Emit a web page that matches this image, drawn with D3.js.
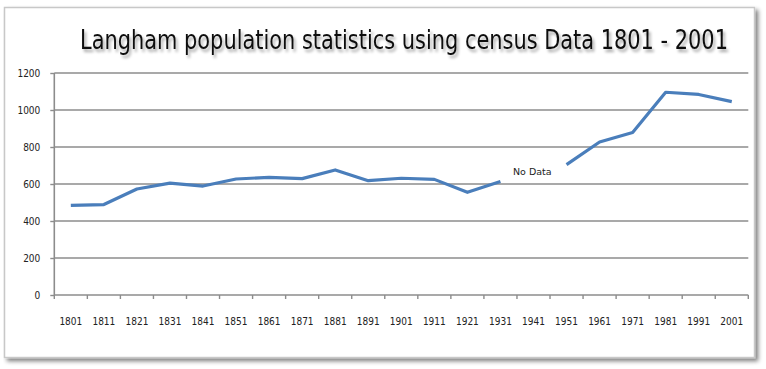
<!DOCTYPE html>
<html><head><meta charset="utf-8">
<script src="https://cdn.jsdelivr.net/npm/d3@7"></script>
<style>body{margin:0;background:#fff;}svg{display:block;}</style>
</head><body>
<svg id="c" width="766" height="369"></svg>
<script>
const years = ["1801","1811","1821","1831","1841","1851","1861","1871","1881","1891","1901","1911","1921","1931","1941","1951","1961","1971","1981","1991","2001"];
const population = [484,489,573,605,589,627,636,629,676,618,631,625,555,613,null,705,827,878,1096,1084,1045];
const yTicks = [0,200,400,600,800,1000,1200];
const title = "Langham population statistics using census Data 1801 - 2001";
const noDataLabel = "No Data";

const svg = d3.select("#c");
const defs = svg.append("defs");
const f = defs.append("filter").attr("id","sh").attr("filterUnits","userSpaceOnUse")
  .attr("x",0).attr("y",0).attr("width",766).attr("height",369);
f.append("feGaussianBlur").attr("in","SourceAlpha").attr("stdDeviation",2);
f.append("feOffset").attr("dx",3).attr("dy",3).attr("result","b");
f.append("feComponentTransfer").append("feFuncA").attr("type","linear").attr("slope",0.5);
const m = f.append("feMerge"); m.append("feMergeNode"); m.append("feMergeNode").attr("in","SourceGraphic");

const tf = defs.append("filter").attr("id","tsh").attr("filterUnits","userSpaceOnUse")
  .attr("x",-100).attr("y",-80).attr("width",900).attr("height",160);
tf.append("feGaussianBlur").attr("in","SourceAlpha").attr("stdDeviation",1.5);
tf.append("feOffset").attr("dx",2).attr("dy",3).attr("result","b");
tf.append("feComponentTransfer").append("feFuncA").attr("type","linear").attr("slope",0.35);
const m2 = tf.append("feMerge"); m2.append("feMergeNode"); m2.append("feMergeNode").attr("in","SourceGraphic");

// frame
svg.append("rect").attr("x",4.5).attr("y",7.5).attr("width",750).attr("height",350)
  .attr("fill","#fff").attr("stroke","#c8c8c8").attr("stroke-width",1.5).attr("filter","url(#sh)");

const pLeft = 54.3, pRight = 748.3, pTop = 73, pBottom = 295;
const x = d3.scaleBand().domain(years).range([pLeft,pRight]).padding(0);
const y = d3.scaleLinear().domain([0,1200]).range([pBottom,pTop]);

// gridlines
svg.append("g").selectAll("line").data(yTicks.filter(d=>d>0)).join("line")
  .attr("x1",pLeft).attr("x2",pRight).attr("y1",d=>y(d)).attr("y2",d=>y(d))
  .attr("stroke","#8c8c8c").attr("stroke-width",1.6);

// y axis
const ya = svg.append("g").attr("transform",`translate(${pLeft},0)`)
  .call(d3.axisLeft(y).tickValues(yTicks).tickSize(4).tickPadding(10).tickFormat(d3.format("d")));
ya.select(".domain").attr("stroke","#8c8c8c").attr("stroke-width",1.6).attr("d",`M0,${pTop}V${pBottom}`);
ya.selectAll(".tick line").attr("stroke","#8c8c8c").attr("stroke-width",1.4);
ya.selectAll("text").attr("font-family","'Liberation Sans Narrow','DejaVu Sans Condensed',sans-serif").attr("font-size",10).attr("fill","#222");

// x axis with ticks between categories
const xa = svg.append("g").attr("transform",`translate(0,${pBottom})`);
xa.append("line").attr("x1",pLeft).attr("x2",pRight).attr("y1",0).attr("y2",0).attr("stroke","#8c8c8c").attr("stroke-width",1.6);
const edges = years.map(d=>x(d)).concat([x(years[years.length-1])+x.bandwidth()]);
xa.selectAll("line.t").data(edges).join("line").attr("class","t")
  .attr("x1",d=>d).attr("x2",d=>d).attr("y1",0).attr("y2",4).attr("stroke","#8c8c8c").attr("stroke-width",1.4);
xa.selectAll("text").data(years).join("text")
  .attr("x",d=>x(d)+x.bandwidth()/2).attr("y",29.5).attr("text-anchor","middle")
  .attr("font-family","'Liberation Sans Narrow','DejaVu Sans Condensed',sans-serif").attr("font-size",10).attr("fill","#222")
  .text(d=>d);

// line
const line = d3.line().defined(d=>d.v!==null).x(d=>x(d.k)+x.bandwidth()/2).y(d=>y(d.v));
svg.append("path").datum(years.map((k,i)=>({k,v:population[i]})))
  .attr("d",line).attr("fill","none").attr("stroke","#4a7ebb").attr("stroke-width",3.2).attr("stroke-linejoin","round");

// No Data label
svg.append("text").attr("x",x("1941")-4).attr("y",y(640)-1.5).attr("font-family","'DejaVu Sans',sans-serif")
  .attr("font-size",9.5).attr("fill","#222").text(noDataLabel);

// title (slightly stretched vertically to match the narrow original face)
const tg = svg.append("g").attr("transform","translate(80,49) scale(1,1.12)").attr("filter","url(#tsh)");
const t = tg.append("text").attr("x",0).attr("y",0).attr("font-family","'DejaVu Sans Condensed','DejaVu Sans',sans-serif")
  .attr("font-size",27).attr("fill","#111").text(title);
const w = t.node().getComputedTextLength();
t.attr("font-size", 27*648/w);
</script>
</body></html>
